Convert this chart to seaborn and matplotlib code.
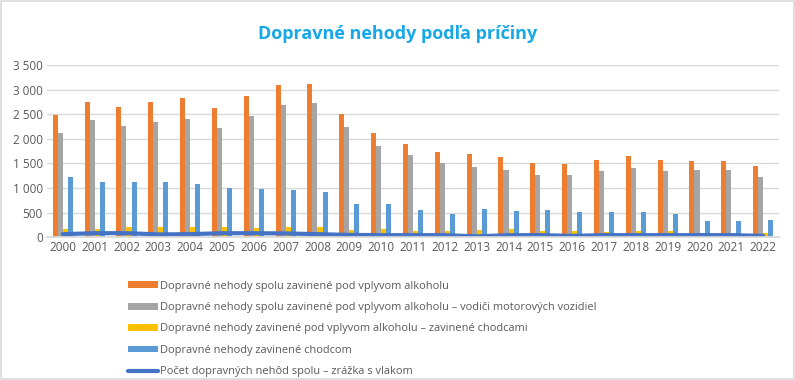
import numpy as np
import pandas as pd
import seaborn as sns
import matplotlib.pyplot as plt
from matplotlib.ticker import FuncFormatter
from matplotlib.patches import Rectangle

years = [str(y) for y in range(2000, 2023)]

alkohol_spolu = [2480, 2750, 2650, 2750, 2830, 2630, 2870, 3100, 3120, 2500, 2120,
                 1890, 1730, 1690, 1630, 1510, 1490, 1570, 1650, 1570, 1550, 1550, 1450]
alkohol_vodici = [2120, 2380, 2260, 2340, 2400, 2220, 2460, 2690, 2730, 2240, 1850,
                  1670, 1510, 1430, 1370, 1260, 1260, 1340, 1400, 1340, 1360, 1360, 1220]
alkohol_chodci = [160, 160, 200, 200, 200, 200, 180, 200, 200, 140, 160,
                  120, 120, 140, 160, 120, 120, 100, 120, 120, 80, 50, 80]
chodci = [1220, 1120, 1120, 1120, 1080, 1000, 980, 960, 920, 670, 670,
          550, 470, 570, 530, 550, 510, 510, 510, 470, 330, 330, 350]
vlak = [60, 80, 80, 55, 60, 80, 80, 75, 60, 45, 40,
        40, 40, 15, 40, 40, 25, 40, 40, 40, 40, 40, 25]

bar_labels = [
    "Dopravné nehody spolu zavinené pod vplyvom alkoholu",
    "Dopravné nehody spolu zavinené pod vplyvom alkoholu – vodiči motorových vozidiel",
    "Dopravné nehody zavinené pod vplyvom alkoholu – zavinené chodcami",
    "Dopravné nehody zavinené chodcom",
]
line_label = "Počet dopravných nehôd spolu – zrážka s vlakom"
colors = ["#ED7D31", "#A5A5A5", "#FFC000", "#5B9BD5"]

# wide -> long for seaborn
wide = pd.DataFrame(dict(zip(bar_labels, [alkohol_spolu, alkohol_vodici, alkohol_chodci, chodci])))
wide["Rok"] = years
long_data = wide.melt(id_vars="Rok", var_name="Séria", value_name="Počet")

sns.set_theme(style="white")
plt.rcParams["font.family"] = ["Open Sans", "DejaVu Sans"]

fig = plt.figure(figsize=(7.95, 3.8), dpi=100)
ax = fig.add_axes([0.059, 0.376, 0.921, 0.453])

sns.barplot(data=long_data, x="Rok", y="Počet", hue="Séria", palette=colors,
            width=0.63, gap=0, saturation=1, linewidth=0, ax=ax, legend=True)
sns.lineplot(x=np.arange(len(years)), y=vlak, color="#4472C4", linewidth=3,
             ax=ax, label=line_label)

ax.set_ylim(0, 3500)
ax.set_xlim(-0.5, len(years) - 0.5)
ax.set_yticks(range(0, 3501, 500))
ax.yaxis.set_major_formatter(FuncFormatter(lambda v, p: f"{int(v):,}".replace(",", " ")))
ax.grid(axis="y", color="#D9D9D9", linewidth=1)
ax.set_axisbelow(True)
for s in ["top", "right", "left"]:
    ax.spines[s].set_visible(False)
ax.spines["bottom"].set_color("#D9D9D9")
ax.tick_params(axis="both", length=0, labelsize=8.5, colors="#595959", pad=3)
ax.set_xlabel("")
ax.set_ylabel("")

handles, labels = ax.get_legend_handles_labels()
ax.get_legend().remove()
fig.legend(handles, labels, loc="upper left", bbox_to_anchor=(0.154, 0.276),
           frameon=False, fontsize=7.9, labelcolor="#595959", handlelength=2.7,
           handleheight=0.6, handletextpad=0.25, labelspacing=0.95, borderpad=0)

fig.suptitle("Dopravné nehody podľa príčiny", color="#17A8E8", fontsize=13,
             fontweight="bold", x=0.5, y=0.935)

fig.patches.append(Rectangle((0.001, 0.002), 0.998, 0.996, transform=fig.transFigure,
                             fill=False, edgecolor="#D9D9D9", linewidth=1.2))

fig.savefig("out.png", dpi=100)
